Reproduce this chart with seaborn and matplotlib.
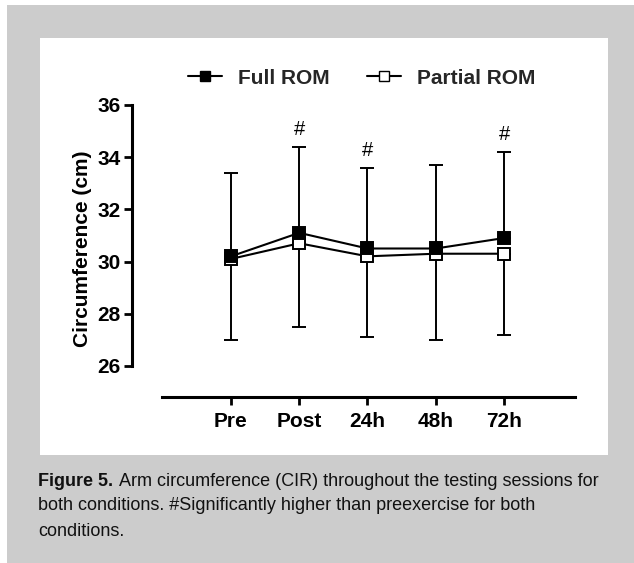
import numpy as np
import pandas as pd
import matplotlib
matplotlib.use("Agg")
import matplotlib.pyplot as plt
from matplotlib.patches import Rectangle
from matplotlib.lines import Line2D
import seaborn as sns

categories = ["Pre", "Post", "24h", "48h", "72h"]
full_rom = [30.2, 31.1, 30.5, 30.5, 30.9]
partial_rom = [30.1, 30.7, 30.2, 30.3, 30.3]
err_top = [33.4, 34.4, 33.6, 33.7, 34.2]      # Full ROM mean + SD
err_bottom = [27.0, 27.5, 27.1, 27.0, 27.2]   # Partial ROM mean - SD
significant = [False, True, True, False, True]
yticks = [26, 28, 30, 32, 34, 36]

sns.set_style("ticks")
plt.rcParams["font.family"] = ["Liberation Sans", "DejaVu Sans"]

W, H = 634, 563
fig = plt.figure(figsize=(W / 100, H / 100), dpi=100, facecolor="white")

def fx(px):
    return px / W

def fy(py):
    return 1 - py / H

# backgrounds
fig.patches.append(Rectangle((fx(7), 0), 1 - fx(7), fy(5), transform=fig.transFigure,
                             facecolor="#cccccc", edgecolor="none", zorder=-10))
fig.patches.append(Rectangle((fx(40), fy(455)), fx(608) - fx(40), fy(38) - fy(455),
                             transform=fig.transFigure, facecolor="white",
                             edgecolor="none", zorder=-9))

ax = fig.add_axes([fx(132), fy(397), fx(575) - fx(132), fy(100) - fy(397)])
ax.set_facecolor("none")

x = np.arange(len(categories))
df = pd.DataFrame({"x": np.concatenate([x, x]),
                   "y": full_rom + partial_rom,
                   "cond": ["Full ROM"] * len(x) + ["Partial ROM"] * len(x)})

full = np.array(full_rom)
part = np.array(partial_rom)
top = np.array(err_top)
bot = np.array(err_bottom)

# error bars
ax.errorbar(x, full, yerr=[np.zeros_like(full), top - full], fmt="none",
            ecolor="black", elinewidth=1.4, capsize=5, capthick=1.4, zorder=2)
ax.errorbar(x, part, yerr=[part - bot, np.zeros_like(part)], fmt="none",
            ecolor="black", elinewidth=1.4, capsize=5, capthick=1.4, zorder=2)

sns.lineplot(data=df[df.cond == "Partial ROM"], x="x", y="y", ax=ax, color="black",
             linewidth=1.5, marker="s", markersize=8, markerfacecolor="white",
             markeredgecolor="black", markeredgewidth=1.4, zorder=3, legend=False)
sns.lineplot(data=df[df.cond == "Full ROM"], x="x", y="y", ax=ax, color="black",
             linewidth=1.5, marker="s", markersize=8, markerfacecolor="black",
             markeredgecolor="black", markeredgewidth=1.4, zorder=4, legend=False)

for xi, t, s in zip(x, top, significant):
    if s:
        ax.text(xi, t + 0.3, "#", ha="center", va="bottom", fontsize=14.5,
                color="black", clip_on=False)

ax.set_xlim(-1.45, 5.04)
ax.set_ylim(24.81, 36.19)
ax.set_xticks(x)
ax.set_xticklabels(categories)
ax.set_yticks(yticks)
ax.set_yticklabels([str(t) for t in yticks])
ax.set_xlabel("")
ax.set_ylabel("Circumference (cm)", fontsize=15, fontweight="bold", labelpad=4,
              color="black")

for s in ["top", "right"]:
    ax.spines[s].set_visible(False)
ax.spines["left"].set_bounds(26, 36)
ax.spines["bottom"].set_bounds(-1.01, 5.04)
for s in ["left", "bottom"]:
    ax.spines[s].set_linewidth(2.2)
    ax.spines[s].set_color("black")
ax.tick_params(axis="both", direction="out", length=6, width=2.0, color="black",
               labelsize=15, labelcolor="black")
ax.tick_params(axis="y", pad=2)
ax.tick_params(axis="x", pad=5)
for lab in ax.get_xticklabels() + ax.get_yticklabels():
    lab.set_fontweight("bold")

handles = [
    Line2D([0], [0], color="black", lw=1.5, marker="s", markersize=7,
           markerfacecolor="black", markeredgecolor="black"),
    Line2D([0], [0], color="black", lw=1.5, marker="s", markersize=7,
           markerfacecolor="white", markeredgecolor="black"),
]
fig.legend(handles, ["Full ROM", "Partial ROM"], loc="center",
           bbox_to_anchor=(fx(362), fy(78)), ncol=2, frameon=False,
           prop={"weight": "bold", "size": 15}, handlelength=1.6,
           handletextpad=0.8, columnspacing=1.8)

# caption
fig.canvas.draw()
r = fig.canvas.get_renderer()
cap_size = 13
t1 = fig.text(fx(38), fy(481), "Figure 5.", fontsize=cap_size, fontweight="bold",
              va="center", ha="left", color="#111111")
bb = t1.get_window_extent(renderer=r)
fig.text(bb.x1 / W + fx(6), fy(481),
         "Arm circumference (CIR) throughout the testing sessions for",
         fontsize=cap_size, va="center", ha="left", color="#111111")
fig.text(fx(38), fy(506),
         "both conditions. #Significantly higher than preexercise for both",
         fontsize=cap_size, va="center", ha="left", color="#111111")
fig.text(fx(38), fy(531), "conditions.", fontsize=cap_size, va="center", ha="left",
         color="#111111")

fig.savefig("out.png", dpi=100, facecolor=fig.get_facecolor())
